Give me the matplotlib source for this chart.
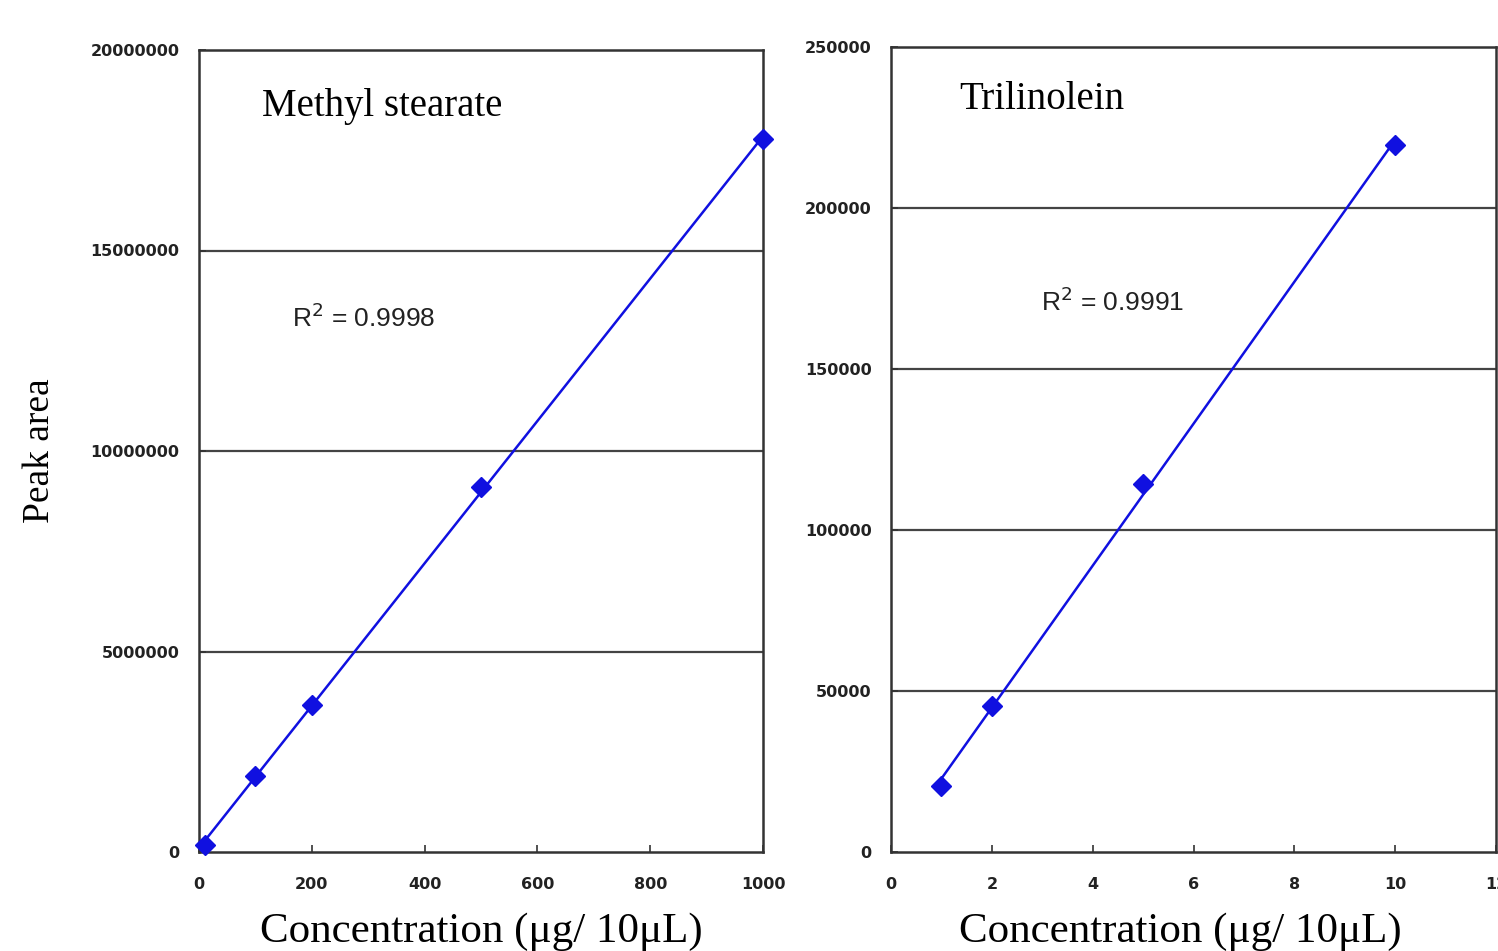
import numpy as np
import matplotlib
matplotlib.use("Agg")
import matplotlib.pyplot as plt

# Data
ms_conc = [10, 100, 200, 500, 1000]
ms_area = [175000, 1895000, 3670000, 9100000, 17780000]
tl_conc = [1, 2, 5, 10]
tl_area = [20500, 45300, 114300, 219600]

ms_title = "Methyl stearate"
tl_title = "Trilinolein"
ms_r2 = "R$^2$ = 0.9998"
tl_r2 = "R$^2$ = 0.9991"
xlabel = "Concentration (\u03bcg/ 10\u03bcL)"
ylabel = "Peak area"

ms_xticks = [0, 200, 400, 600, 800, 1000]
ms_yticks = [0, 5000000, 10000000, 15000000, 20000000]
tl_xticks = [0, 2, 4, 6, 8, 10, 12]
tl_yticks = [0, 50000, 100000, 150000, 200000, 250000]

W, H = 1498, 951
fig = plt.figure(figsize=(W / 100, H / 100), dpi=100)
fig.patch.set_facecolor("white")

serif = ["Liberation Serif", "DejaVu Serif"]
sans = ["Liberation Sans", "DejaVu Sans"]
blue = "#1010e0"


def style(ax, xt, yt, xlim, ylim):
    ax.set_xlim(*xlim)
    ax.set_ylim(*ylim)
    ax.set_xticks(xt)
    ax.set_yticks(yt)
    ax.set_xticklabels([str(v) for v in xt], fontsize=11.5, fontweight="bold", color="#222")
    ax.set_yticklabels([str(v) for v in yt], fontsize=11.5, fontweight="bold", color="#222")
    ax.tick_params(direction="in", length=5, width=1.2, color="#333")
    ax.tick_params(axis="x", pad=18)
    ax.tick_params(axis="y", pad=14)
    for y in yt[1:-1]:
        ax.axhline(y, color="#444", lw=1.6, zorder=1)
    for s in ax.spines.values():
        s.set_color("#333")
        s.set_linewidth(1.8)


def fit_plot(ax, x, y):
    x = np.asarray(x, float)
    y = np.asarray(y, float)
    k, b = np.polyfit(x, y, 1)
    xs = np.array([x.min(), x.max()])
    ax.plot(xs, k * xs + b, color=blue, lw=1.8, zorder=3)
    ax.plot(x, y, "D", color=blue, ms=10, zorder=4, clip_on=False)


# Left panel
ax1 = fig.add_axes([199 / W, 1 - 852 / H, (763 - 199) / W, (852 - 50) / H])
style(ax1, ms_xticks, ms_yticks, (0, 1000), (0, 20000000))
fit_plot(ax1, ms_conc, ms_area)
ax1.text(0.112, 0.93, ms_title, transform=ax1.transAxes, fontsize=28,
         family=serif, va="center", ha="left")
ax1.text(0.165, 0.666, ms_r2, transform=ax1.transAxes, fontsize=19,
         family=sans, va="center", ha="left", color="#222")
ax1.set_xlabel(xlabel, fontsize=31, family=serif, va="center")
ax1.xaxis.set_label_coords(0.5, -80 / 802)
ax1.set_ylabel(ylabel, fontsize=27, family=serif, va="center")
ax1.yaxis.set_label_coords(-(199 - 40) / 564, 0.5)

# Right panel
ax2 = fig.add_axes([891 / W, 1 - 852 / H, (1496 - 891) / W, (852 - 47) / H])
style(ax2, tl_xticks, tl_yticks, (0, 12), (0, 250000))
fit_plot(ax2, tl_conc, tl_area)
ax2.text(0.112, 0.935, tl_title, transform=ax2.transAxes, fontsize=28,
         family=serif, va="center", ha="left")
ax2.text(0.248, 0.683, tl_r2, transform=ax2.transAxes, fontsize=19,
         family=sans, va="center", ha="left", color="#222")
ax2.set_xlabel(xlabel, fontsize=31, family=serif, va="center")
ax2.xaxis.set_label_coords((1180 - 891) / (1496 - 891), -80 / 805)

fig.savefig("out.png", dpi=100)
